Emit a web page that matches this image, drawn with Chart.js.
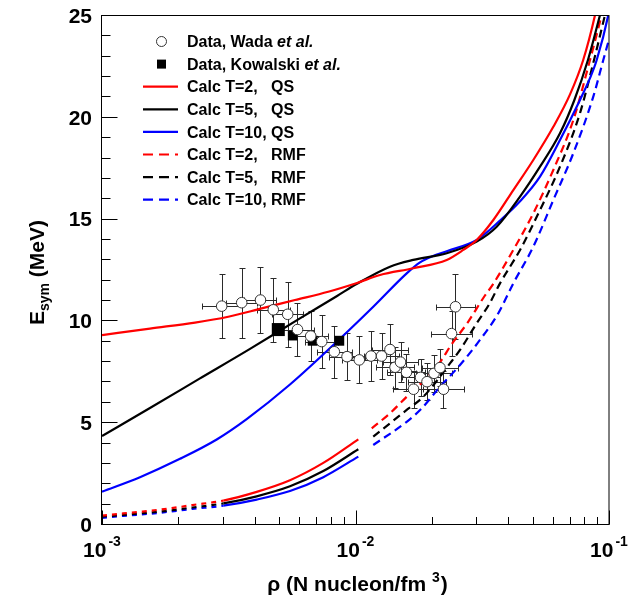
<!DOCTYPE html>
<html><head><meta charset="utf-8">
<script src="https://cdn.jsdelivr.net/npm/chart.js@4.4.1/dist/chart.umd.min.js"></script>
<style>html,body{margin:0;padding:0;background:#fff;}#wrap{position:relative;width:644px;height:597px;}</style>
</head><body><div id="wrap"><canvas id="c" width="644" height="597"></canvas></div>
<script>
// ---------------- DATA ----------------
const xTickValues = [0.001, 0.01, 0.1];
const xTickExponents = ['-3', '-2', '-1'];
const xMinorMultipliers = [2, 3, 4, 5, 6, 7, 8, 9];
const yTickValues = [0, 5, 10, 15, 20, 25];

// Calc QS curves
const qsT2_rho = [0.001, 0.001546, 0.002328, 0.003149, 0.004266, 0.005771, 0.00781, 0.01014, 0.01249, 0.0169, 0.0229, 0.02661, 0.03007, 0.03497, 0.04193, 0.05028, 0.0603, 0.07018, 0.07917, 0.0881, 0.09215];
const qsT2_E   = [9.28, 9.6, 9.89, 10.18, 10.59, 11.0, 11.41, 11.84, 12.23, 12.56, 12.97, 13.46, 13.95, 14.93, 16.40, 17.88, 19.51, 21.1, 22.8, 25.0, 26.2];

const qsT5_rho = [0.001, 0.001546, 0.002435, 0.003836, 0.006035, 0.00846, 0.01014, 0.01368, 0.0169, 0.0229, 0.03007, 0.03606, 0.04457, 0.05343, 0.06407, 0.07290, 0.08265, 0.09215, 0.1];
const qsT5_E   = [4.32, 5.7, 7.15, 8.6, 10.1, 11.2, 11.8, 12.64, 12.97, 13.3, 13.87, 14.6, 16.08, 17.55, 19.19, 20.8, 22.8, 25.0, 26.8];

const qsT10_rho = [0.001, 0.001412, 0.002031, 0.002835, 0.003722, 0.005515, 0.008689, 0.01175, 0.01592, 0.01797, 0.02011, 0.0229, 0.03007, 0.03715, 0.04457, 0.05343, 0.06407, 0.07684, 0.08414, 0.08944, 0.09936, 0.1];
const qsT10_E   = [1.59, 2.3, 3.2, 4.15, 5.15, 6.85, 9.1, 10.67, 12.31, 12.85, 13.15, 13.4, 13.95, 14.9, 15.85, 17.06, 18.86, 20.83, 21.9, 22.79, 25.0, 25.2];

// Calc RMF curves (low-density branch and high-density branch)
const rmfLow_rho = [0.001, 0.001213, 0.001412, 0.001837, 0.002272, 0.00301, 0.004076, 0.005515, 0.007464, 0.01026];
const rmfT2_lowE  = [0.41, 0.52, 0.6, 0.76, 0.93, 1.15, 1.58, 2.15, 3.0, 4.16];
const rmfT5_lowE  = [0.36, 0.45, 0.52, 0.66, 0.81, 1.01, 1.36, 1.85, 2.6, 3.67];
const rmfT10_lowE = [0.3, 0.4, 0.46, 0.6, 0.74, 0.9, 1.2, 1.62, 2.3, 3.31];

const rmfT2_hiRho = [0.01159, 0.01368, 0.01592, 0.01968, 0.02188, 0.02359, 0.02786, 0.03192, 0.03497, 0.04193, 0.05028, 0.0603, 0.07231, 0.08414, 0.09359, 0.0995];
const rmfT2_hiE   = [4.7, 5.44, 6.25, 7.35, 8.06, 8.71, 9.94, 11.1, 11.8, 13.46, 15.26, 17.39, 19.84, 22.79, 25.0, 26.3];

const rmfT5_hiRho = [0.01175, 0.01592, 0.01852, 0.02359, 0.02584, 0.03007, 0.03372, 0.03715, 0.04457, 0.05343, 0.06407, 0.07684, 0.08727, 0.09643, 0.1];
const rmfT5_hiE   = [4.29, 5.6, 6.25, 7.89, 8.55, 9.86, 10.81, 11.82, 13.46, 15.42, 17.55, 20.18, 22.79, 25.0, 25.8];

const rmfT10_hiRho = [0.01175, 0.01592, 0.01825, 0.02154, 0.02584, 0.03097, 0.03659, 0.04193, 0.05028, 0.0603, 0.07231, 0.0867, 0.09495, 0.1];
const rmfT10_hiE   = [3.88, 5.02, 5.68, 6.74, 7.81, 9.04, 10.35, 11.82, 13.62, 15.91, 18.21, 20.99, 22.79, 23.8];

// Data, Wada et al.
const wadaRho  = [0.002966, 0.003557, 0.004218, 0.004738, 0.005401, 0.005904, 0.006658, 0.007357, 0.00825, 0.009259, 0.01035, 0.01151, 0.01267, 0.01368, 0.01432, 0.01505, 0.01589, 0.01694, 0.01805, 0.01915, 0.02041, 0.02154, 0.02224, 0.02392, 0.0248];
const wadaE    = [10.7, 10.87, 11.0, 10.52, 10.3, 9.55, 9.23, 8.96, 8.46, 8.22, 8.06, 8.25, 8.25, 8.57, 7.7, 7.95, 7.45, 6.62, 7.2, 6.99, 7.4, 7.68, 6.62, 9.35, 10.67];
const wadaEErr = [1.58, 1.72, 1.62, 1.57, 1.6, 1.3, 1.24, 1.3, 1.28, 1.15, 1.15, 1.23, 1.15, 1.23, 1.0, 1.0, 0.9, 0.9, 0.9, 0.9, 0.9, 0.9, 0.9, 1.1, 1.6];
const wadaRhoErrDec = [0.079, 0.06, 0.063, 0.065, 0.06, 0.065, 0.07, 0.065, 0.07, 0.07, 0.07, 0.075, 0.07, 0.07, 0.075, 0.07, 0.075, 0.08, 0.075, 0.075, 0.07, 0.07, 0.08, 0.082, 0.075];

// Data, Kowalski et al.
const kowRho = [0.00496, 0.00565, 0.00678, 0.00863];
const kowE   = [9.55, 9.25, 9.0, 9.0];

const legendLabels = [
  ['Data, Wada ', 'et al.'],
  ['Data, Kowalski ', 'et al.'],
  ['Calc T=2,   QS', ''],
  ['Calc T=5,   QS', ''],
  ['Calc T=10, QS', ''],
  ['Calc T=2,   RMF', ''],
  ['Calc T=5,   RMF', ''],
  ['Calc T=10, RMF', '']
];

// ---------------- STYLE / BUILD ----------------
const FONT = '"Liberation Sans", Arial, Helvetica, sans-serif';
const RED = '#ff0000', BLK = '#000000', BLU = '#0000ff';
const pts = (xs, ys) => xs.map((x, i) => ({x: x, y: ys[i]}));

function curve(xs, ys, color, dash, extra) {
  return Object.assign({
    data: pts(xs, ys), showLine: true, borderColor: color, backgroundColor: color,
    borderWidth: 2.2, pointRadius: 0, borderDash: dash, fill: false,
    cubicInterpolationMode: 'monotone', order: 1
  }, extra || {});
}
const lowSeg = { borderDash: c => (c.p0.parsed.x >= 0.0024 ? [] : undefined) };

const datasets = [
  curve(qsT2_rho, qsT2_E, RED, []),
  curve(qsT5_rho, qsT5_E, BLK, []),
  curve(qsT10_rho, qsT10_E, BLU, []),
  curve(rmfLow_rho, rmfT2_lowE, RED, [5, 5], {segment: lowSeg}),
  curve(rmfLow_rho, rmfT5_lowE, BLK, [5, 5], {segment: lowSeg}),
  curve(rmfLow_rho, rmfT10_lowE, BLU, [5, 5], {segment: lowSeg}),
  curve(rmfT2_hiRho, rmfT2_hiE, RED, [8, 5]),
  curve(rmfT5_hiRho, rmfT5_hiE, BLK, [8, 5]),
  curve(rmfT10_hiRho, rmfT10_hiE, BLU, [8, 5]),
  { data: pts(wadaRho, wadaE), showLine: false, pointStyle: 'circle', pointRadius: 5.3,
    pointBackgroundColor: '#ffffff', pointBorderColor: '#333333', pointBorderWidth: 1, order: 0 },
  { data: pts(kowRho, kowE), showLine: false, pointStyle: 'rect', pointRadius: [9.2, 6.8, 7, 7],
    pointBackgroundColor: '#000000', pointBorderColor: '#000000', pointBorderWidth: 0, order: 0 }
];

const errorBars = {
  id: 'errorBars',
  beforeDatasetsDraw(chart) {
    const {ctx, chartArea: ca} = chart, xs = chart.scales.x, ys = chart.scales.y;
    ctx.save();
    ctx.beginPath(); ctx.rect(ca.left, ca.top, ca.width, ca.height); ctx.clip();
    ctx.strokeStyle = '#2a2a2a'; ctx.lineWidth = 1;
    const r = v => Math.round(v) + 0.5;
    for (let i = 0; i < wadaRho.length; i++) {
      const px = r(xs.getPixelForValue(wadaRho[i])), py = r(ys.getPixelForValue(wadaE[i]));
      const xl = r(xs.getPixelForValue(wadaRho[i] * Math.pow(10, -wadaRhoErrDec[i])));
      const xh = r(xs.getPixelForValue(wadaRho[i] * Math.pow(10, wadaRhoErrDec[i])));
      const yl = r(ys.getPixelForValue(wadaE[i] - wadaEErr[i]));
      const yh = r(ys.getPixelForValue(wadaE[i] + wadaEErr[i]));
      ctx.beginPath();
      ctx.moveTo(xl, py); ctx.lineTo(xh, py);
      ctx.moveTo(px, yl); ctx.lineTo(px, yh);
      ctx.moveTo(xl, py - 3); ctx.lineTo(xl, py + 3);
      ctx.moveTo(xh, py - 3); ctx.lineTo(xh, py + 3);
      ctx.moveTo(px - 3, yl); ctx.lineTo(px + 3, yl);
      ctx.moveTo(px - 3, yh); ctx.lineTo(px + 3, yh);
      ctx.stroke();
    }
    ctx.restore();
  }
};

const decorations = {
  id: 'decorations',
  afterDraw(chart) {
    const {ctx, chartArea: ca} = chart, xs = chart.scales.x, ys = chart.scales.y;
    ctx.save();
    // frame
    ctx.strokeStyle = '#000'; ctx.lineWidth = 1;
    ctx.strokeRect(ca.left - 0.5, ca.top + 0.5, ca.right - ca.left + 0.5, ca.bottom - ca.top);
    const bottom = ca.bottom + 0.5, left = ca.left - 0.5;
    // x ticks
    ctx.beginPath();
    xTickValues.forEach(v => {
      const p = Math.round(xs.getPixelForValue(v)) + 0.5;
      ctx.moveTo(p, bottom); ctx.lineTo(p, bottom - 14);
    });
    for (let d = 0; d < xTickValues.length - 1; d++) {
      xMinorMultipliers.forEach(m => {
        const p = Math.round(xs.getPixelForValue(xTickValues[d] * m)) + 0.5;
        ctx.moveTo(p, bottom); ctx.lineTo(p, bottom - 7.5);
      });
    }
    // y ticks
    const yMin = yTickValues[0], yMax = yTickValues[yTickValues.length - 1];
    for (let v = yMin; v <= yMax; v++) {
      const p = Math.round(ys.getPixelForValue(v)) + 0.5;
      const major = yTickValues.includes(v);
      ctx.moveTo(left, p); ctx.lineTo(left + (major ? 16 : 9), p);
    }
    ctx.stroke();

    ctx.fillStyle = '#000';
    // y tick labels
    ctx.font = 'bold 21px ' + FONT;
    ctx.textAlign = 'right'; ctx.textBaseline = 'middle';
    yTickValues.forEach(v => {
      ctx.fillText(String(v), ca.left - 10, ys.getPixelForValue(v) + 2);
    });
    // x tick labels (10^n)
    ctx.textBaseline = 'alphabetic'; ctx.textAlign = 'left';
    xTickValues.forEach((v, i) => {
      ctx.font = 'bold 21px ' + FONT;
      const w1 = ctx.measureText('10').width;
      ctx.font = 'bold 14px ' + FONT;
      const w2 = ctx.measureText(xTickExponents[i]).width;
      const total = w1 + 2 + w2;
      const cx = xs.getPixelForValue(v);
      const x0 = cx - total / 2;
      ctx.font = 'bold 21px ' + FONT;
      ctx.fillText('10', x0, 557);
      ctx.font = 'bold 14px ' + FONT;
      ctx.fillText(xTickExponents[i], x0 + w1 + 2, 546);
    });
    // x title
    {
      const t1 = '\u03c1 (N nucleon/fm ', t2 = '3', t3 = ')';
      ctx.font = 'bold 21px ' + FONT;
      const a = ctx.measureText(t1).width, c = ctx.measureText(t3).width;
      ctx.font = 'bold 14px ' + FONT;
      const b = ctx.measureText(t2).width;
      const total = a + b + 1 + c;
      const x0 = (ca.left + ca.right) / 2 - total / 2 + 2;
      const base = 591;
      ctx.font = 'bold 21px ' + FONT;
      ctx.fillText(t1, x0, base);
      ctx.font = 'bold 14px ' + FONT;
      ctx.fillText(t2, x0 + a, base - 9);
      ctx.font = 'bold 21px ' + FONT;
      ctx.fillText(t3, x0 + a + b + 1, base);
    }
    // y title
    {
      ctx.save();
      ctx.translate(44, (ca.top + ca.bottom) / 2 + 3);
      ctx.rotate(-Math.PI / 2);
      ctx.font = 'bold 21px ' + FONT;
      const wE = ctx.measureText('E').width, wR = ctx.measureText(' (MeV)').width;
      ctx.font = 'bold 14px ' + FONT;
      const wS = ctx.measureText('sym').width;
      const start = -(wE + wS + wR) / 2;
      ctx.font = 'bold 21px ' + FONT;
      ctx.fillText('E', start, 0);
      ctx.font = 'bold 14px ' + FONT;
      ctx.fillText('sym', start + wE, 5);
      ctx.font = 'bold 21px ' + FONT;
      ctx.fillText(' (MeV)', start + wE + wS, 0);
      ctx.restore();
    }
    // legend
    {
      const rowY = i => 41.5 + i * 22.6;
      const lineColors = [null, null, RED, BLK, BLU, RED, BLK, BLU];
      legendLabels.forEach((lab, i) => {
        const y = rowY(i);
        if (i === 0) {
          ctx.beginPath(); ctx.arc(161.5, y, 5, 0, Math.PI * 2);
          ctx.fillStyle = '#fff'; ctx.fill();
          ctx.strokeStyle = '#333'; ctx.lineWidth = 1; ctx.setLineDash([]); ctx.stroke();
        } else if (i === 1) {
          ctx.fillStyle = '#000'; ctx.fillRect(157, y - 4.5, 9, 9);
        } else {
          ctx.beginPath();
          ctx.strokeStyle = lineColors[i]; ctx.lineWidth = 2.2;
          ctx.setLineDash(i >= 5 ? [10, 6] : []);
          ctx.moveTo(143, y); ctx.lineTo(178, y); ctx.stroke();
          ctx.setLineDash([]);
        }
        ctx.fillStyle = '#000';
        ctx.font = 'bold 16px ' + FONT;
        ctx.textAlign = 'left'; ctx.textBaseline = 'alphabetic';
        ctx.fillText(lab[0], 187, y + 5.7);
        if (lab[1]) {
          const w = ctx.measureText(lab[0]).width;
          ctx.font = 'italic bold 16px ' + FONT;
          ctx.fillText(lab[1], 187 + w, y + 5.7);
        }
      });
    }
    ctx.restore();
  }
};

new Chart(document.getElementById('c'), {
  type: 'scatter',
  data: { datasets: datasets },
  options: {
    responsive: false, animation: false, devicePixelRatio: 1, events: [],
    layout: { padding: { left: 102, right: 35, top: 15, bottom: 73 } },
    plugins: { legend: { display: false }, tooltip: { enabled: false } },
    scales: {
      x: { type: 'logarithmic', min: 0.001, max: 0.1, display: false },
      y: { type: 'linear', min: 0, max: 25, display: false }
    }
  },
  plugins: [errorBars, decorations]
});
</script>
</body></html>
